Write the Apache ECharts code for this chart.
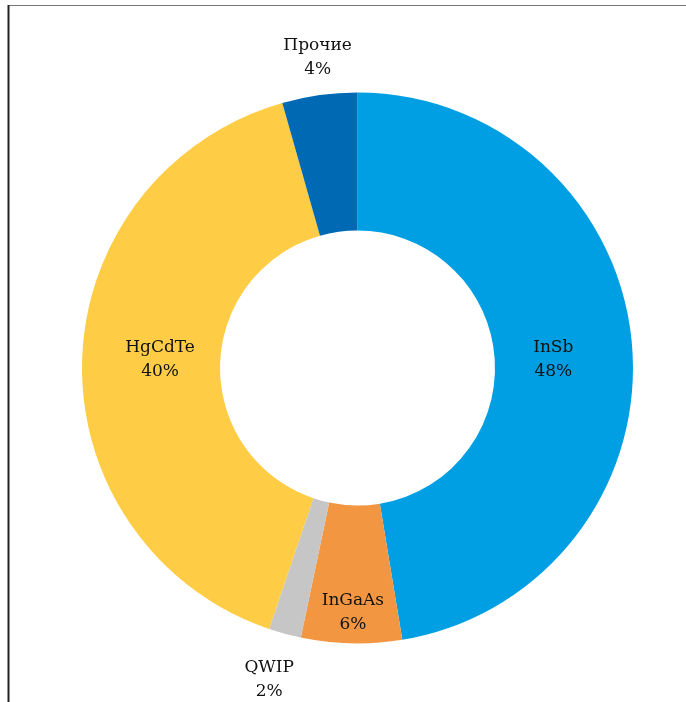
<!DOCTYPE html>
<html>
<head>
<meta charset="utf-8">
<script src="https://cdn.jsdelivr.net/npm/echarts@6/dist/echarts.min.js"></script>
<style>
html,body{margin:0;padding:0;background:#fff;}
#chart{width:686px;height:702px;}
</style>
</head>
<body>
<div id="chart"></div>
<script>
const categories = ['InSb', 'InGaAs', 'QWIP', 'HgCdTe', 'Прочие'];
const values = [47.4, 5.9, 1.9, 40.4, 4.4];
const percentLabels = ['48%', '6%', '2%', '40%', '4%'];
const colors = ['#009fe3', '#f39642', '#c6c6c6', '#fecd45', '#0069b4'];
const labelOffsets = [[-13, 9], [0, 35], [-33, 110], [12, -3], [-11, -103]];

const chart = echarts.init(document.getElementById('chart'));
chart.setOption({
  animation: false,
  backgroundColor: '#fff',
  graphic: [
    { type: 'line', shape: { x1: 8, y1: 5.5, x2: 686, y2: 5.5 }, style: { stroke: '#777', lineWidth: 1 } },
    { type: 'line', shape: { x1: 8.5, y1: 5, x2: 8.5, y2: 702 }, style: { stroke: '#222', lineWidth: 2 } }
  ],
  series: [{
    type: 'pie',
    center: [357.5, 368],
    radius: [137.5, 275.5],
    startAngle: 90,
    clockwise: true,
    avoidLabelOverlap: false,
    labelLine: { show: false },
    label: {
      show: true,
      position: 'inside',
      fontFamily: 'DejaVu Serif',
      fontSize: 17,
      lineHeight: 24,
      color: '#111',
      align: 'center'
    },
    itemStyle: { borderWidth: 0 },
    data: categories.map((c, i) => ({
      name: c,
      value: values[i],
      itemStyle: { color: colors[i] },
      label: {
        formatter: c + '\n' + percentLabels[i],
        offset: labelOffsets[i]
      }
    }))
  }]
});
</script>
</body>
</html>
